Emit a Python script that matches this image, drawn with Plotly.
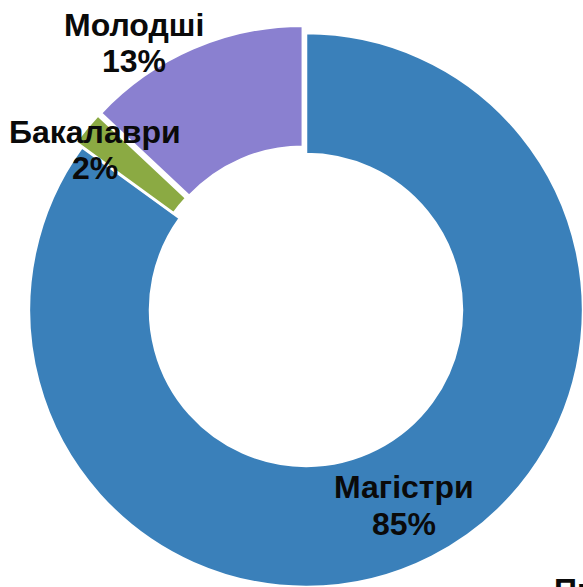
import math
import plotly.graph_objects as go

# ---- data ----
labels = ["Магістри", "Бакалаври", "Молодші"]
values = [85, 2, 13]
percent_text = ["85%", "2%", "13%"]
colors = ["#3A80BA", "#8BAA43", "#8A80D0"]
pulls_px = [0, 8, 8]          # how far each slice is pulled out (px)

# ---- layout geometry (pixels) ----
W, H = 583, 587
cx, cy, R = 306, 310, 277
HOLE = 0.563

fig = go.Figure()
total = sum(values)
start = 0.0
for i, (lab, val) in enumerate(zip(labels, values)):
    frac = val / total
    mid = (start + frac / 2) * 2 * math.pi     # clockwise from top
    start += frac
    d = pulls_px[i]
    dx = d * math.sin(mid)
    dy = -d * math.cos(mid)                    # downward positive
    x0, x1 = cx + dx - R, cx + dx + R
    y0, y1 = cy + dy - R, cy + dy + R
    mcols = [c if j == i else "rgba(0,0,0,0)" for j, c in enumerate(colors)]
    lcols = ["white" if j == i else "rgba(0,0,0,0)" for j in range(len(colors))]
    fig.add_trace(go.Pie(
        labels=labels, values=values, sort=False, direction="clockwise",
        rotation=0, hole=HOLE,
        marker=dict(colors=mcols, line=dict(color=lcols, width=2.5)),
        textinfo="none", hoverinfo="skip", showlegend=False,
        domain=dict(x=[max(0, x0 / W), min(1, x1 / W)],
                    y=[max(0, 1 - y1 / H), min(1, 1 - y0 / H)]),
    ))

FONT = dict(family="Liberation Sans, Arial, sans-serif", size=32, color="#0a0a0a")
# label positions (pixel centers)
label_pos = {
    "Молодші": [(134, 25), (134, 61)],
    "Бакалаври": [(95, 132), (95, 168)],
    "Магістри": [(404, 487), (404, 524)],
}
ann = []
for lab, pct in zip(labels, percent_text):
    (x1p, y1p), (x2p, y2p) = label_pos[lab]
    for txt, (xp, yp) in ((lab, (x1p, y1p)), (pct, (x2p, y2p))):
        ann.append(dict(text="<b>%s</b>" % txt, x=xp / W, y=1 - yp / H,
                        xref="paper", yref="paper", xanchor="center",
                        yanchor="middle", showarrow=False, font=FONT))
# partially visible label at bottom-right edge (cut off in the reference too)
ann.append(dict(text="<b>Пр</b>", x=552 / W, y=1 - 590 / H, xref="paper",
                yref="paper", xanchor="left", yanchor="middle",
                showarrow=False, font=FONT))

fig.update_layout(width=W, height=H, margin=dict(l=0, r=0, t=0, b=0),
                  paper_bgcolor="white", plot_bgcolor="white",
                  annotations=ann)
fig.write_html("out.html")
